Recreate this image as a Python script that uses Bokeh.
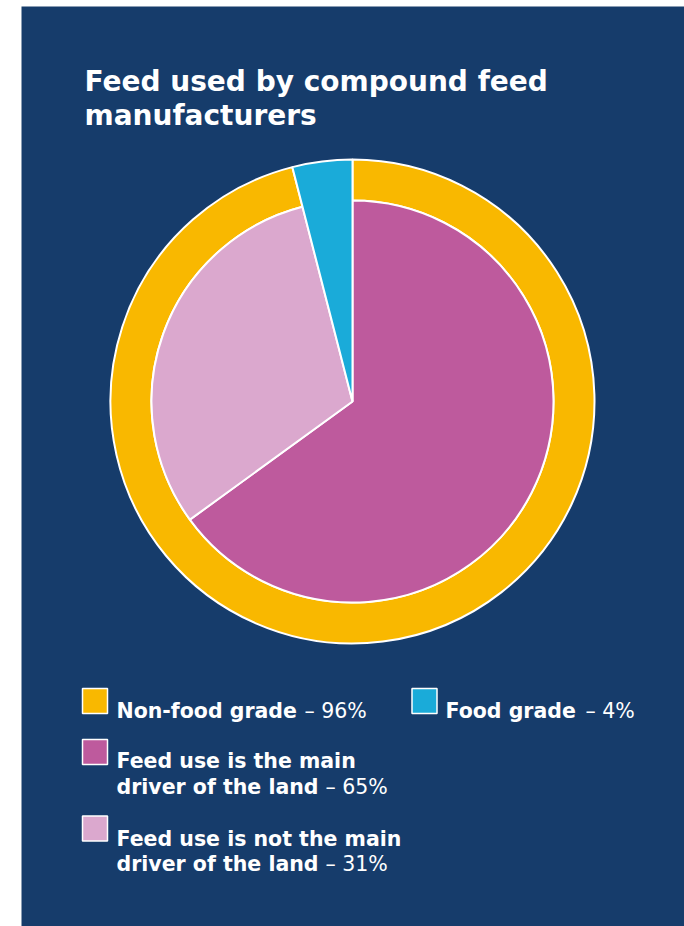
import math
from bokeh.plotting import figure
from bokeh.models import Range1d
from bokeh.core.properties import value
from bokeh.embed import file_html
from bokeh.resources import INLINE

# ---- data ----
title_lines = ["Feed used by compound feed", "manufacturers"]
outer_labels = ["Non-food grade", "Food grade"]
outer_values = [96, 4]
outer_colors = ["#F9B800", "#1AABD9"]
inner_labels = ["Feed use is the main driver of the land",
                "Feed use is not the main driver of the land"]
inner_values = [65, 31]
inner_colors = ["#BE5A9D", "#DBA8CE"]

BG = "#163c6b"
FONT = value("DejaVu Sans")

W, H = 684, 926
PAD_L, PAD_T = 21, 6

p = figure(width=W, height=H, x_range=Range1d(0, W - PAD_L), y_range=Range1d(0, H - PAD_T),
           output_backend="svg", toolbar_location=None,
           x_axis_location=None, y_axis_location=None,
           min_border_left=PAD_L, min_border_top=PAD_T, min_border_right=0, min_border_bottom=0)
p.grid.visible = False
p.outline_line_color = None
p.background_fill_color = BG
p.border_fill_color = "white"


def X(sx):
    return sx - PAD_L


def Y(sy):
    return H - sy


def ang(pct):
    return math.pi / 2 - 2 * math.pi * pct / 100.0


cx, cy = X(352), Y(401)
R_OUT, R_IN = 242, 201

# outer ring: non-food grade (annular), food grade (full wedge)
total = sum(outer_values)
nf = outer_values[0] / total * 100
p.annular_wedge(x=cx, y=cy, inner_radius=R_IN, outer_radius=R_OUT,
                start_angle=ang(0), end_angle=ang(nf), direction="clock",
                fill_color=outer_colors[0], line_color="white", line_width=2)

# inner pie: split of non-food grade
cum = 0.0
for v, c in zip(inner_values, inner_colors):
    s = cum / total * 100
    cum += v
    e = cum / total * 100
    p.wedge(x=cx, y=cy, radius=R_IN, start_angle=ang(s), end_angle=ang(e),
            direction="clock", fill_color=c, line_color="white", line_width=2)

p.wedge(x=cx, y=cy, radius=R_OUT, start_angle=ang(nf), end_angle=ang(100),
        direction="clock", fill_color=outer_colors[1], line_color="white", line_width=2)

# title
for i, t in enumerate(title_lines):
    p.text(x=[X(84)], y=[Y(81 + 34 * i)], text=[t], text_font=FONT, text_font_style="bold",
           text_font_size="28px", text_color="white", text_baseline="alphabetic")

# legend
def bold(sx, sy, t):
    p.text(x=[X(sx)], y=[Y(sy)], text=[t], text_font=FONT, text_font_style="bold",
           text_font_size="20.5px", text_color="white", text_baseline="alphabetic")


def reg(sx, sy, t):
    p.text(x=[X(sx)], y=[Y(sy)], text=[t], text_font=FONT, text_font_style="normal",
           text_font_size="20.5px", text_color="white", text_baseline="alphabetic")


def square(sx, sy, c):
    p.rect(x=[X(sx)], y=[Y(sy)], width=25, height=25, fill_color=c,
           line_color="white", line_width=1.5)


square(94.5, 700.5, outer_colors[0])
bold(116, 710, outer_labels[0])
reg(304, 710, f"– {outer_values[0]}%")

square(424, 700.5, outer_colors[1])
bold(445, 710, outer_labels[1])
reg(585, 710, f"– {outer_values[1]}%")


def split(label):
    i = label.index(" driver")
    return label[:i], label[i + 1:]


rows = [(751.5, 760, 786, 325), (828, 838, 863, 325)]
for (sq_y, b1, b2, rx), lab, v, c in zip(rows, inner_labels, inner_values, inner_colors):
    square(94.5, sq_y, c)
    l1, l2 = split(lab)
    bold(116, b1, l1)
    bold(116, b2, l2)
    reg(rx, b2, f"– {v}%")

open("out.html", "w").write(file_html(p, INLINE))
